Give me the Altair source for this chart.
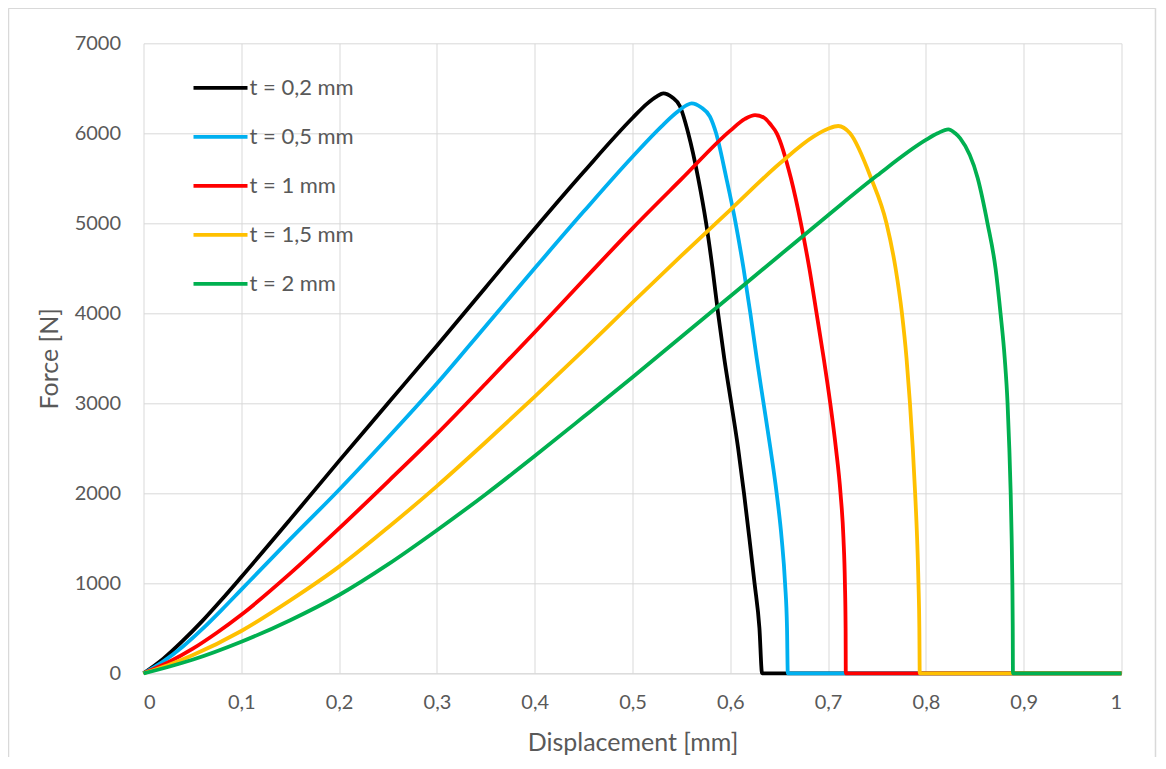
import altair as alt
import pandas as pd

# ---- data ----
series_names = ["t = 0,2 mm", "t = 0,5 mm", "t = 1 mm", "t = 1,5 mm", "t = 2 mm"]
series_colors = ["#000000", "#00B0F0", "#FF0000", "#FFC000", "#00B050"]

# t = 0,2 mm
black_x = [0, 0.02, 0.04, 0.06, 0.08, 0.1, 0.15, 0.2, 0.25, 0.3, 0.35, 0.4, 0.45, 0.5, 0.515,
           0.525, 0.5315, 0.5405, 0.5485, 0.557, 0.5672, 0.5753, 0.5818, 0.5875, 0.5938, 0.601,
           0.608, 0.614, 0.6195, 0.6248, 0.6298, 0.6325, 1.0]
black_y = [0, 160, 360, 580, 820, 1070, 1710, 2360, 3000, 3640, 4290, 4940, 5570, 6170, 6330,
           6410, 6444, 6400, 6300, 6000, 5500, 5000, 4500, 4000, 3500, 3000,
           2500, 2000, 1500, 1000, 500, 0, 0]

# t = 0,5 mm
blue_x = [0, 0.02, 0.04, 0.06, 0.08, 0.1, 0.15, 0.2, 0.25, 0.3, 0.35, 0.4, 0.45, 0.5, 0.53,
          0.545, 0.555, 0.5605, 0.57, 0.5792, 0.5855, 0.596, 0.6055, 0.6135, 0.6205, 0.627,
          0.634, 0.641, 0.6474, 0.6525, 0.656, 0.658, 0.6588, 1.0]
blue_y = [0, 130, 295, 490, 705, 930, 1490, 2040, 2620, 3220, 3860, 4500, 5130, 5740, 6080,
          6230, 6310, 6333, 6290, 6185, 6000, 5500, 5000, 4500, 4000, 3500,
          3000, 2500, 2000, 1500, 1000, 500, 0, 0]

# t = 1 mm
red_x = [0, 0.025, 0.05, 0.075, 0.1, 0.15, 0.2, 0.25, 0.3, 0.35, 0.4, 0.45, 0.5, 0.55, 0.6,
         0.615, 0.6253, 0.635, 0.641, 0.6475, 0.662, 0.6722, 0.6808, 0.6882, 0.6955, 0.7022,
         0.708, 0.7127, 0.7157, 0.7172, 0.7179, 0.7181, 1.0]
red_y = [0, 120, 270, 450, 650, 1110, 1610, 2130, 2660, 3220, 3790, 4370, 4944, 5490, 6030,
         6160, 6203, 6170, 6100, 6000, 5500, 5000, 4500, 4000, 3500, 3000,
         2500, 2000, 1500, 1000, 500, 0, 0]

# t = 1,5 mm
yellow_x = [0, 0.025, 0.05, 0.1, 0.15, 0.2, 0.25, 0.3, 0.35, 0.4, 0.45, 0.5, 0.55, 0.6, 0.6508,
            0.685, 0.7, 0.7104, 0.7224, 0.744, 0.7597, 0.769, 0.7755, 0.7802, 0.7837, 0.7866,
            0.789, 0.791, 0.7924, 0.7933, 0.7937, 1.0]
yellow_y = [0, 90, 200, 470, 810, 1185, 1620, 2080, 2570, 3073, 3590, 4120, 4640, 5150, 5667,
            5963, 6050, 6081, 6000, 5500, 5000, 4500, 4000, 3500, 3000, 2500,
            2000, 1500, 1000, 500, 0, 0]

# t = 2 mm
green_x = [0, 0.025, 0.05, 0.1, 0.15, 0.2, 0.25, 0.3, 0.35, 0.4, 0.45, 0.5, 0.55, 0.6, 0.65, 0.7,
           0.75, 0.8, 0.812, 0.8229, 0.83, 0.8351, 0.853, 0.863, 0.8712, 0.8763, 0.8806, 0.8835,
           0.8853, 0.8867, 0.8877, 0.8884, 0.8888, 0.889, 1.0]
green_y = [0, 70, 150, 350, 590, 870, 1210, 1590, 1990, 2414, 2850, 3290, 3740, 4190, 4640, 5090,
           5530, 5926, 6000, 6044, 6000, 5944, 5500, 5000, 4500, 4000, 3500, 3000,
           2500, 2000, 1500, 1000, 500, 0, 0]

x_ticks = [0, 0.1, 0.2, 0.3, 0.4, 0.5, 0.6, 0.7, 0.8, 0.9, 1.0]
y_ticks = [0, 1000, 2000, 3000, 4000, 5000, 6000, 7000]

all_series = [(black_x, black_y), (blue_x, blue_y), (red_x, red_y),
              (yellow_x, yellow_y), (green_x, green_y)]

rows = []
for name, (xs, ys) in zip(series_names, all_series):
    for i, (xv, yv) in enumerate(zip(xs, ys)):
        rows.append({"series": name, "disp": xv, "force": yv, "idx": i})
df = pd.DataFrame(rows)

TEXT = "#595959"
GRID = "#d9d9d9"

color = alt.Color(
    "series:N",
    scale=alt.Scale(domain=series_names, range=series_colors),
    legend=alt.Legend(
        title=None, orient="none", legendX=48, legendY=15.5,
        symbolType="stroke", symbolSize=2916, symbolStrokeWidth=3.8,
        labelFont="Lato", labelFontSize=22, labelColor=TEXT,
        labelOffset=0, rowPadding=9, padding=0,
    ),
)

x_enc = alt.X(
    "disp:Q",
    scale=alt.Scale(domain=[0, 1], nice=False),
    axis=alt.Axis(values=x_ticks, title="Displacement [mm]",
                  labelExpr="replace(format(datum.value, '.1~f'), '.', ',')",
                  labelPadding=19, titlePadding=18),
)
y_enc = alt.Y(
    "force:Q",
    scale=alt.Scale(domain=[0, 7000], nice=False),
    axis=alt.Axis(values=y_ticks, title="Force [N]", format="d",
                  labelPadding=23, titlePadding=12, domain=False),
)

base = alt.Chart(df)
layers = []
for name in series_names:
    layers.append(
        base.transform_filter(alt.datum.series == name)
        .mark_line(strokeWidth=3.8, interpolate="monotone", strokeJoin="round")
        .encode(x=x_enc, y=y_enc, color=color, order=alt.Order("idx:Q"))
    )

one = alt.Data(values=[{"a": 1}])
frame_left = alt.Chart(one).mark_rule(stroke=GRID, strokeWidth=1.5, clip=False).encode(
    x=alt.value(-135), y=alt.value(-35), y2=alt.value(720))
frame_top = alt.Chart(one).mark_rule(stroke=GRID, strokeWidth=1.5, clip=False).encode(
    x=alt.value(-135), x2=alt.value(1012), y=alt.value(-35))
frame_right = alt.Chart(one).mark_rule(stroke=GRID, strokeWidth=1.5, clip=False).encode(
    x=alt.value(1012), y=alt.value(-35), y2=alt.value(720))

chart = alt.layer(frame_left, frame_top, frame_right, *layers).properties(
    width=978, height=630,
    autosize=alt.AutoSizeParams(type="none"),
    padding={"left": 135.5, "top": 35.3, "right": 36, "bottom": 83.5},
).configure_axis(
    labelFont="Lato", labelFontSize=20, labelColor=TEXT,
    titleFont="Lato", titleFontSize=25, titleColor=TEXT, titleFontWeight="normal",
    gridColor=GRID, gridWidth=1, ticks=False,
    domainColor=GRID, domainWidth=1,
).configure_view(strokeWidth=0)

chart.save("out.html", embed_options={"renderer": "svg", "actions": False})
